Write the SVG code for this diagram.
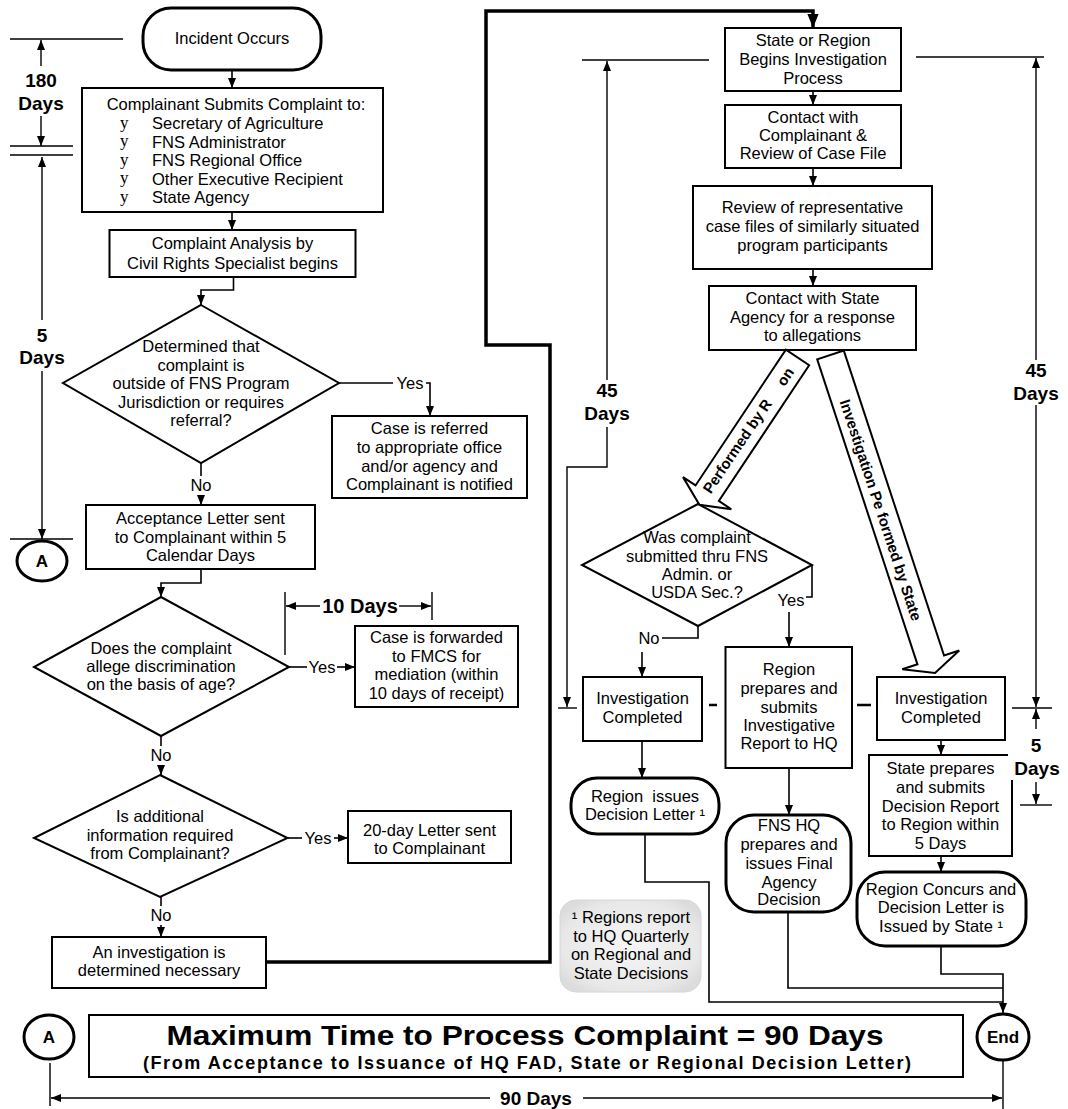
<svg xmlns="http://www.w3.org/2000/svg" width="1068" height="1109" viewBox="0 0 1068 1109">
<defs>
<style>
.bx{fill:#fff;stroke:#000;stroke-width:2}
.tm{fill:#fff;stroke:#000;stroke-width:3}
.c{fill:none;stroke:#000;stroke-width:1.6}
.ct{fill:none;stroke:#000;stroke-width:3.5}
.d{fill:none;stroke:#000;stroke-width:1.4}
.ds{fill:none;stroke:#000;stroke-width:2.5}
.ba{fill:#fff;stroke:#000;stroke-width:2}
text{font-family:"Liberation Sans",Arial,sans-serif;fill:#000}
.t{font-size:16.5px;text-anchor:middle}
.l{font-size:16.5px}
.bd{font-size:19px;font-weight:bold;text-anchor:middle}
.bt{font-size:15px;font-weight:bold;text-anchor:middle}
.bu{font-family:"Liberation Serif","Times New Roman",serif;font-size:17px}
</style>
<marker id="ah" viewBox="0 0 10 8" refX="10" refY="4" markerWidth="10" markerHeight="8" markerUnits="userSpaceOnUse" orient="auto"><path d="M0,0L10,4L0,8z"/></marker>
<marker id="aht" viewBox="0 0 10 8" refX="10" refY="4" markerWidth="14" markerHeight="12" markerUnits="userSpaceOnUse" orient="auto"><path d="M0,0L10,4L0,8z"/></marker>
<radialGradient id="ng" cx="0.5" cy="0.5" r="0.6"><stop offset="0" stop-color="#f6f6f6"/><stop offset="0.8" stop-color="#e8e8e8"/><stop offset="1" stop-color="#dcdcdc"/></radialGradient>
</defs>
<rect width="1068" height="1109" fill="#fff"/>

<g id="connectors">
<path class="c" d="M232,70V88" marker-end="url(#ah)"/>
<path class="c" d="M232,212V230" marker-end="url(#ah)"/>
<path class="c" d="M233.5,277V290H201V305" marker-end="url(#ah)"/>
<path class="c" d="M339,383H393"/>
<path class="c" d="M426,383H430V416" marker-end="url(#ah)"/>
<path class="c" d="M201,463V476"/>
<path class="c" d="M201,495V505" marker-end="url(#ah)"/>
<path class="c" d="M201,569V583H161V597" marker-end="url(#ah)"/>
<path class="c" d="M289,667H307"/>
<path class="c" d="M337,667H355" marker-end="url(#ah)"/>
<path class="c" d="M161,736V746"/>
<path class="c" d="M161,765V775" marker-end="url(#ah)"/>
<path class="c" d="M287.5,838H302"/>
<path class="c" d="M334,838H348" marker-end="url(#ah)"/>
<path class="c" d="M161,897V906"/>
<path class="c" d="M161,925V937" marker-end="url(#ah)"/>
<path class="ct" d="M266,962H550V345H486V11H813V28" marker-end="url(#aht)"/>
<path class="c" d="M813,91V105" marker-end="url(#ah)"/>
<path class="c" d="M813,168V186" marker-end="url(#ah)"/>
<path class="c" d="M813,269V286" marker-end="url(#ah)"/>
<path class="c" d="M812,565V597H806"/>
<path class="c" d="M789,612V647" marker-end="url(#ah)"/>
<path class="c" d="M698,626V638H662"/>
<path class="c" d="M642,652V677" marker-end="url(#ah)"/>
<path class="c" d="M642,741V778" stroke-width="1" marker-end="url(#ah)"/>
<path class="c" d="M789,768V815" marker-end="url(#ah)"/>
<path class="c" d="M941,740V755" marker-end="url(#ah)"/>
<path class="c" d="M941,856V872" marker-end="url(#ah)"/>
<path class="c" d="M645,834V882H709V1002H1003"/>
<path class="c" d="M788,912V988H1003"/>
<path class="c" d="M941,946V974H1003V1013" marker-end="url(#ah)"/>
</g>

<g id="dimensions">
<path class="d" d="M10,39H123M10,146H73M10,155H73"/>
<path class="d" d="M41,66V40" marker-end="url(#ah)"/>
<path class="d" d="M41,116V146" marker-end="url(#ah)"/>
<text class="bd" x="41" y="87">180</text>
<text class="bd" x="41" y="110">Days</text>
<path class="d" d="M42,320V157" marker-end="url(#ah)"/>
<path class="d" d="M42,371V539" marker-end="url(#ah)"/>
<path class="d" d="M10,539H73"/>
<text class="bd" x="42" y="342">5</text>
<text class="bd" x="42" y="364">Days</text>
<path class="d" d="M285,592V655M432,592V620"/>
<path class="d" d="M320,606H286" marker-end="url(#ah)"/>
<path class="d" d="M399,606H431" marker-end="url(#ah)"/>
<text class="bd" x="360" y="613" style="font-size:20px">10 Days</text>
<path class="d" d="M582,60H709"/>
<path class="d" d="M607,380V61" marker-end="url(#ah)"/>
<path class="d" d="M607,427V467H567V707" marker-end="url(#ah)"/>
<path class="d" d="M558,708H577"/>
<text class="bd" x="607" y="397">45</text>
<text class="bd" x="607" y="420">Days</text>
<path class="d" d="M916,57H1044"/>
<path class="d" d="M1036,360V58" marker-end="url(#ah)"/>
<path class="d" d="M1036,405V707" marker-end="url(#ah)"/>
<path class="d" d="M1012,708H1052"/>
<path class="d" d="M1036,729V709" marker-end="url(#ah)"/>
<text class="bd" x="1036" y="377">45</text>
<text class="bd" x="1036" y="400">Days</text>
<text class="bd" x="1036" y="752">5</text>
<text class="bd" x="1037" y="775">Days</text>
<path class="d" d="M1036,782V804" marker-end="url(#ah)"/>
<path class="d" d="M1020,805H1052"/>
<path class="ds" d="M709,705H717M857,705H871"/>
<path class="d" d="M50,1063V1106M1003,1060V1109"/>
<path class="d" d="M490,1098H51" marker-end="url(#ah)"/>
<path class="d" d="M583,1098H1002" marker-end="url(#ah)"/>
<text class="bd" x="536" y="1105">90 Days</text>
</g>

<g id="incident">
<rect class="tm" x="143" y="8" width="178" height="62" rx="28"/>
<text class="t" x="232" y="44">Incident Occurs</text>
</g>

<g id="submit">
<rect class="bx" x="82" y="88" width="301" height="124"/>
<text class="t" x="236" y="110">Complainant Submits Complaint to:</text>
<text class="bu" x="120" y="128">y</text><text class="l" x="152" y="129">Secretary of Agriculture</text>
<text class="bu" x="120" y="146">y</text><text class="l" x="152" y="147.5">FNS Administrator</text>
<text class="bu" x="120" y="165">y</text><text class="l" x="152" y="166">FNS Regional Office</text>
<text class="bu" x="120" y="183">y</text><text class="l" x="152" y="184.5">Other Executive Recipient</text>
<text class="bu" x="120" y="202">y</text><text class="l" x="152" y="203">State Agency</text>
</g>

<g id="analysis">
<rect class="bx" x="109.5" y="230" width="246" height="47"/>
<text class="t" x="232.5" y="249">Complaint Analysis by</text>
<text class="t" x="232.5" y="269">Civil Rights Specialist begins</text>
</g>

<g id="decision-jurisdiction">
<polygon class="bx" points="201,305 339,383 201,463 63,383"/>
<text class="t" x="201" y="352">Determined that</text>
<text class="t" x="201" y="371">complaint is</text>
<text class="t" x="201" y="389">outside of FNS Program</text>
<text class="t" x="201" y="408">Jurisdiction or requires</text>
<text class="t" x="201" y="426">referral?</text>
<text class="t" x="410" y="389">Yes</text>
<text class="t" x="201" y="491">No</text>
</g>

<g id="referred">
<rect class="bx" x="332" y="416" width="195" height="82"/>
<text class="t" x="429.5" y="434">Case is referred</text>
<text class="t" x="429.5" y="453">to appropriate office</text>
<text class="t" x="429.5" y="472">and/or agency and</text>
<text class="t" x="429.5" y="490">Complainant is notified</text>
</g>

<g id="connector-a-top">
<ellipse class="tm" cx="42" cy="561" rx="25" ry="20" stroke-width="2.5"/>
<text class="bd" x="42" y="567" style="font-size:17px">A</text>
</g>

<g id="acceptance">
<rect class="bx" x="86" y="505" width="229" height="64"/>
<text class="t" x="200.5" y="524">Acceptance Letter sent</text>
<text class="t" x="200.5" y="543">to Complainant within 5</text>
<text class="t" x="200.5" y="561">Calendar Days</text>
</g>

<g id="decision-age">
<polygon class="bx" points="161,597 289,667 161,736 34,667"/>
<text class="t" x="161" y="654">Does the complaint</text>
<text class="t" x="161" y="672">allege discrimination</text>
<text class="t" x="161" y="690">on the basis of age?</text>
<text class="t" x="322" y="673">Yes</text>
<text class="t" x="161" y="761">No</text>
</g>

<g id="fmcs">
<rect class="bx" x="355" y="626" width="163" height="81"/>
<text class="t" x="436.5" y="643">Case is forwarded</text>
<text class="t" x="436.5" y="662">to FMCS for</text>
<text class="t" x="436.5" y="680">mediation (within</text>
<text class="t" x="436.5" y="699">10 days of receipt)</text>
</g>

<g id="decision-info">
<polygon class="bx" points="160,775 287.5,838 160,897 34,838"/>
<text class="t" x="160" y="822">Is additional</text>
<text class="t" x="160" y="841">information required</text>
<text class="t" x="160" y="859">from Complainant?</text>
<text class="t" x="318" y="844">Yes</text>
<text class="t" x="161" y="921">No</text>
</g>

<g id="letter20">
<rect class="bx" x="348" y="811" width="163" height="52"/>
<text class="t" x="429.5" y="836">20-day Letter sent</text>
<text class="t" x="429.5" y="854">to Complainant</text>
</g>

<g id="investigation-necessary">
<rect class="bx" x="52" y="937" width="214" height="51"/>
<text class="t" x="159" y="958">An investigation is</text>
<text class="t" x="159" y="976">determined necessary</text>
</g>

<g id="state-region-begins">
<rect class="bx" x="725" y="28" width="176" height="63"/>
<text class="t" x="813" y="46">State or Region</text>
<text class="t" x="813" y="65">Begins Investigation</text>
<text class="t" x="813" y="84">Process</text>
</g>

<g id="contact-complainant">
<rect class="bx" x="725" y="105" width="176" height="63"/>
<text class="t" x="813" y="123">Contact with</text>
<text class="t" x="813" y="141">Complainant &amp;</text>
<text class="t" x="813" y="159">Review of Case File</text>
</g>

<g id="review-files">
<rect class="bx" x="693" y="186" width="239" height="83"/>
<text class="t" x="812.5" y="213">Review of representative</text>
<text class="t" x="812.5" y="232">case files of similarly situated</text>
<text class="t" x="812.5" y="251">program participants</text>
</g>

<g id="contact-state">
<rect class="bx" x="709" y="286" width="207" height="64"/>
<text class="t" x="812.5" y="304">Contact with State</text>
<text class="t" x="812.5" y="323">Agency for a response</text>
<text class="t" x="812.5" y="341">to allegations</text>
</g>

<g id="arrow-region">
<polygon class="ba" transform="translate(797.5,357.5) rotate(123.65)" points="0,-14 163,-14 163,-29 177,0 163,29 163,14 0,14"/>
<text class="bt" transform="translate(737,446) rotate(-55.8)" y="5.5" textLength="110" lengthAdjust="spacingAndGlyphs">Performed by R</text>
<text class="bt" transform="translate(785,376.5) rotate(-55.8)" y="5.5">on</text>
</g>

<g id="arrow-state">
<polygon class="ba" transform="translate(830.5,355) rotate(71.8)" points="0,-14 321,-14 321,-30 334.7,0 321,30 321,14 0,14"/>
<text class="bt" transform="translate(881,510) rotate(71.8)" y="5.5" textLength="232" lengthAdjust="spacingAndGlyphs">Investigation Pe formed by State</text>
</g>

<g id="decision-submitted">
<polygon class="bx" points="698,504 812,565 698,626 582,565"/>
<text class="t" x="697" y="543">Was complaint</text>
<text class="t" x="697" y="562">submitted thru FNS</text>
<text class="t" x="697" y="580">Admin. or</text>
<text class="t" x="697" y="598">USDA Sec.?</text>
<text class="t" x="791" y="606">Yes</text>
<text class="t" x="649" y="644">No</text>
</g>

<g id="investigation-completed-region">
<rect class="bx" x="583" y="677" width="119" height="64"/>
<text class="t" x="642.5" y="704">Investigation</text>
<text class="t" x="642.5" y="723">Completed</text>
</g>

<g id="region-prepares">
<rect class="bx" x="725.5" y="647" width="126.5" height="121"/>
<text class="t" x="789" y="675">Region</text>
<text class="t" x="789" y="694">prepares and</text>
<text class="t" x="789" y="713">submits</text>
<text class="t" x="789" y="731">Investigative</text>
<text class="t" x="789" y="749">Report to HQ</text>
</g>

<g id="investigation-completed-state">
<rect class="bx" x="877" y="677" width="128" height="63"/>
<text class="t" x="941" y="704">Investigation</text>
<text class="t" x="941" y="723">Completed</text>
</g>

<g id="state-prepares">
<path class="bx" d="M1008,755H869V856H1012V780"/>
<text class="t" x="940.5" y="774">State prepares</text>
<text class="t" x="940.5" y="793">and submits</text>
<text class="t" x="940.5" y="812">Decision Report</text>
<text class="t" x="940.5" y="830">to Region within</text>
<text class="t" x="940.5" y="849">5 Days</text>
</g>

<g id="region-issues">
<rect class="tm" x="571" y="778" width="148" height="56" rx="26"/>
<text class="t" x="645" y="802" xml:space="preserve">Region  issues</text>
<text class="t" x="645" y="820">Decision Letter ¹</text>
</g>

<g id="fns-hq">
<rect class="tm" x="726" y="815" width="125" height="97" rx="28"/>
<text class="t" x="789" y="831">FNS HQ</text>
<text class="t" x="789" y="850">prepares and</text>
<text class="t" x="789" y="869">issues Final</text>
<text class="t" x="789" y="888">Agency</text>
<text class="t" x="789" y="905">Decision</text>
</g>

<g id="region-concurs">
<rect class="tm" x="857" y="872" width="169" height="74" rx="28"/>
<text class="t" x="941" y="895">Region Concurs and</text>
<text class="t" x="941" y="913">Decision Letter is</text>
<text class="t" x="941" y="932">Issued by State ¹</text>
</g>

<g id="footnote">
<rect x="560" y="900" width="141" height="92" rx="16" fill="url(#ng)" stroke="#d6d6d6" stroke-width="1"/>
<text class="t" x="631" y="923">¹ Regions report</text>
<text class="t" x="631" y="942">to HQ Quarterly</text>
<text class="t" x="631" y="960">on Regional and</text>
<text class="t" x="631" y="979">State Decisions</text>
</g>

<g id="connector-a-bottom">
<ellipse class="tm" cx="49" cy="1037" rx="25" ry="22" stroke-width="2.5"/>
<text class="bd" x="49" y="1043" style="font-size:17px">A</text>
</g>

<g id="max-time">
<rect class="bx" x="89" y="1015" width="874" height="62"/>
<text x="525" y="1045" style="font-size:28px;font-weight:bold;text-anchor:middle" textLength="717" lengthAdjust="spacingAndGlyphs">Maximum Time to Process Complaint = 90 Days</text>
<text x="527" y="1069" style="font-size:18px;font-weight:bold;text-anchor:middle" textLength="768" lengthAdjust="spacing">(From Acceptance to Issuance of HQ FAD, State or Regional Decision Letter)</text>
</g>

<g id="end">
<ellipse class="tm" cx="1003" cy="1037" rx="26" ry="23" stroke-width="2.5"/>
<text class="bd" x="1003" y="1043" style="font-size:17px">End</text>
</g>
</svg>
